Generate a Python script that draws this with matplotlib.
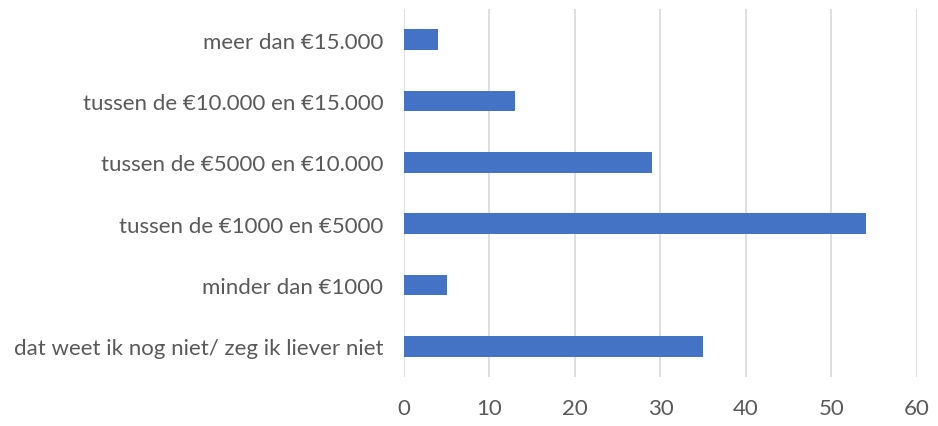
import matplotlib
matplotlib.use("Agg")
import matplotlib.pyplot as plt

# Categories (bottom to top as drawn) and counts
categories = [
    "dat weet ik nog niet/ zeg ik liever niet",
    "minder dan €1000",
    "tussen de €1000 en €5000",
    "tussen de €5000 en €10.000",
    "tussen de €10.000 en €15.000",
    "meer dan €15.000",
]
values = [35, 5, 54, 29, 13, 4]
x_ticks = [0, 10, 20, 30, 40, 50, 60]

plt.rcParams['font.family'] = ['Lato', 'DejaVu Sans']

fig = plt.figure(figsize=(9.38, 4.27), dpi=100)
ax = fig.add_axes([0.4307, 0.1148, 0.5469, 0.8618])

ax.barh(range(len(categories)), values, height=0.34, color="#4472C4", zorder=3)

ax.set_xlim(0, 60)
ax.set_ylim(-0.5, len(categories) - 0.5)
ax.set_xticks(x_ticks)
ax.set_yticks(range(len(categories)))
ax.set_yticklabels(categories)

ax.grid(axis="x", color="#d9d9d9", linewidth=1.2, zorder=0)
for side in ["top", "right", "bottom", "left"]:
    ax.spines[side].set_visible(False)
ax.tick_params(axis="both", length=0, labelsize=16, colors="#595959")
ax.tick_params(axis="y", pad=15)
ax.tick_params(axis="x", pad=15)

fig.savefig("out.png", dpi=100)
